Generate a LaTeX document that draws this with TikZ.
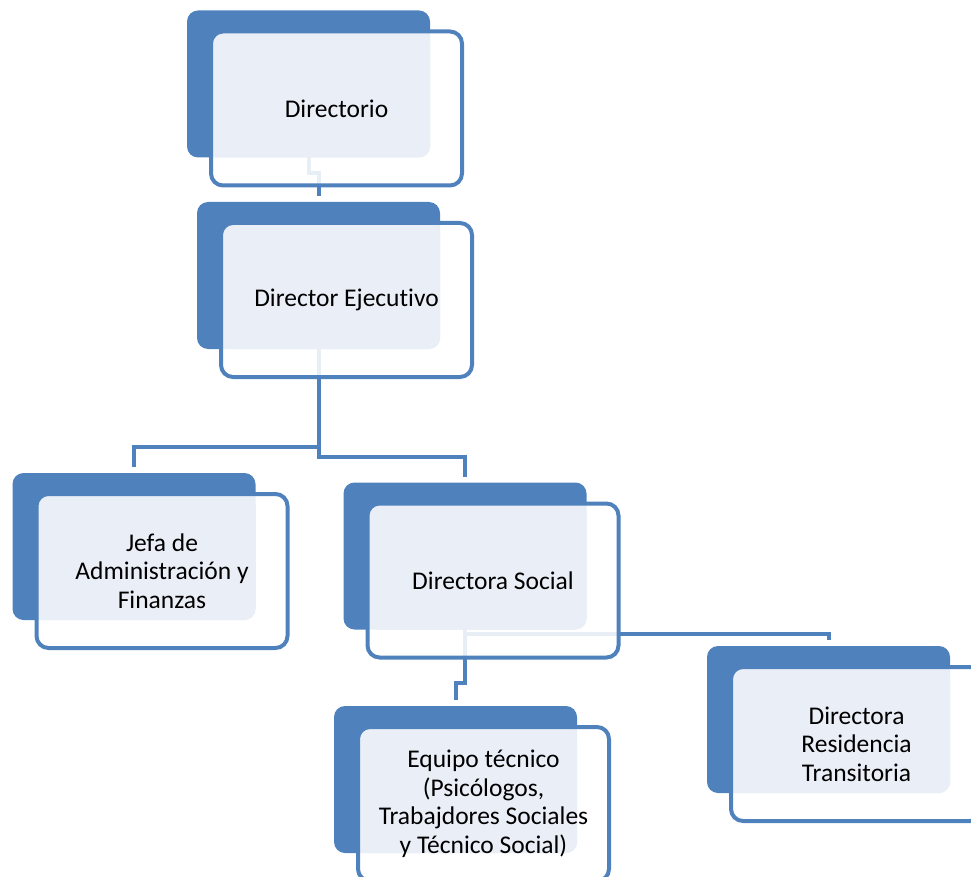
\documentclass[tikz,border=0pt]{standalone}
\usepackage{fontspec}
\setmainfont{Carlito}[Ligatures={NoCommon}]
\usetikzlibrary{backgrounds}

\definecolor{orgblue}{HTML}{4F81BD}
\definecolor{orglight}{HTML}{EAEEF6}

\tikzset{
  backbox/.style={fill=orgblue,rounded corners=11pt,minimum width=243pt,minimum height=147pt,inner sep=0pt,outer sep=0pt},
  frontbox/.style={draw=orgblue,line width=4pt,fill=white,fill opacity=0.87,text opacity=1,rounded corners=12pt,
    minimum width=251pt,minimum height=154pt,inner sep=0pt,outer sep=0pt,align=center,
    font=\fontsize{25.5}{28.5}\selectfont,
    path picture={\fill[orglight,fill opacity=1,rounded corners=11pt] (path picture bounding box.north west) rectangle (#1.south east);}},
  link/.style={draw=orgblue,line width=4pt,shorten >=6pt}
}

\begin{document}
\begin{tikzpicture}[x=1pt,y=-1pt]
  \useasboundingbox (0,0) rectangle (971,877);

  \node [backbox] (dir-b) at (308.5,84) {};
  \node [frontbox=dir-b] (dir) at ([shift={(28,24.5)}]dir-b.center) {Directorio};

  \node [backbox] (dej-b) at (318.5,275.5) {};
  \node [frontbox=dej-b] (dej) at ([shift={(28,24.5)}]dej-b.center) {Director Ejecutivo};

  \node [backbox] (jaf-b) at (134,546.5) {};
  \node [frontbox=jaf-b] (jaf) at ([shift={(28,24.5)}]jaf-b.center) {Jefa de\\Administración y\\Finanzas};

  \node [backbox] (dso-b) at (465,556) {};
  \node [frontbox=dso-b] (dso) at ([shift={(28,24.5)}]dso-b.center) {Directora Social};

  \node [backbox] (etc-b) at (455.5,779.5) {};
  \node [frontbox=etc-b] (etc) at ([shift={(28,24.5)}]etc-b.center) {Equipo técnico\\(Psicólogos,\\Trabajdores Sociales\\y Técnico Social)};

  \node [backbox] (drt-b) at (828.5,719.5) {};
  \node [frontbox=drt-b] (drt) at ([shift={(28,24.5)}]drt-b.center) {Directora\\Residencia\\Transitoria};

  \begin{scope}[on background layer]
    \draw [link] (dir-b.south) -- ++(0,16) -| (dej-b.north);
    \draw [link] (dej-b.south) -- ++(0,98) -| (jaf-b.north);
    \draw [link] (dej-b.south) -- ++(0,108) -| (dso-b.north);
    \draw [link] (dso-b.south) -- ++(0,53) -| (etc-b.north);
    \draw [link] (dso-b.south) -- ++(0,4) -| (drt-b.north);
  \end{scope}

\end{tikzpicture}
\end{document}
